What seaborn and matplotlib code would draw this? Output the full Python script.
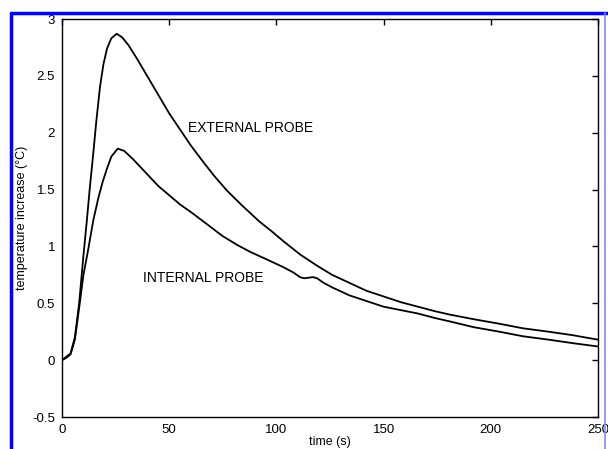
import numpy as np
import pandas as pd
import matplotlib.pyplot as plt
from matplotlib.lines import Line2D
import seaborn as sns

sns.set_style("white")
plt.rcParams['font.family'] = ['Liberation Sans', 'DejaVu Sans']
plt.rcParams['text.color'] = 'black'
plt.rcParams['axes.labelcolor'] = 'black'

# external probe (time s, temperature increase C)
time_ext = [0, 2, 4, 6, 8, 10, 11.6, 13, 14.6, 16, 17.7, 19.3, 21, 23, 25.5, 28, 31, 35,
            40, 45, 50, 55, 60, 66, 71, 77, 84, 92, 98, 103, 111, 119, 126, 134,
            142, 150, 158, 166, 174, 181, 192, 204, 215, 227, 238, 250]
temp_ext = [0, 0.03, 0.06, 0.2, 0.5, 0.92, 1.23, 1.52, 1.82, 2.1, 2.4, 2.6, 2.74, 2.83, 2.87,
            2.84, 2.77, 2.65, 2.49, 2.33, 2.17, 2.03, 1.89, 1.74, 1.62, 1.49, 1.36, 1.22,
            1.13, 1.05, 0.93, 0.83, 0.75, 0.68, 0.61, 0.56, 0.51, 0.47, 0.43, 0.40, 0.36,
            0.32, 0.28, 0.25, 0.22, 0.18]

# internal probe
time_int = [0, 2, 4, 6, 8, 10, 12, 14.6, 17, 19, 20.9, 23, 26, 29, 33, 37, 41, 45, 50, 55,
            61, 68, 75, 82, 88, 95, 103, 108, 111, 113, 117, 119, 122, 126, 134, 142, 150,
            158, 166, 174, 181, 192, 204, 215, 227, 238, 250]
temp_int = [0, 0.02, 0.05, 0.18, 0.46, 0.75, 0.95, 1.23, 1.43, 1.57, 1.68, 1.79, 1.86, 1.84,
            1.77, 1.69, 1.61, 1.53, 1.45, 1.37, 1.29, 1.19, 1.09, 1.01, 0.95, 0.89, 0.82,
            0.77, 0.73, 0.72, 0.73, 0.72, 0.68, 0.64, 0.57, 0.52, 0.47, 0.44, 0.41, 0.37,
            0.34, 0.29, 0.25, 0.21, 0.18, 0.15, 0.12]

x_ticks = [0, 50, 100, 150, 200, 250]
y_ticks = [-0.5, 0, 0.5, 1, 1.5, 2, 2.5, 3]
y_ticklabels = ['-0.5', '0', '0.5', '1', '1.5', '2', '2.5', '3']

fig = plt.figure(figsize=(6.08, 4.49), dpi=100)
ax = fig.add_axes([62/608, 1-417/449, 536/608, 398/449])

sns.lineplot(x=time_ext, y=temp_ext, color='black', lw=1.3, ax=ax)
sns.lineplot(x=time_int, y=temp_int, color='black', lw=1.3, ax=ax)

ax.set_xlim(0, 250)
ax.set_ylim(-0.5, 3)
ax.set_xticks(x_ticks)
ax.set_xticklabels([str(v) for v in x_ticks])
ax.set_yticks(y_ticks)
ax.set_yticklabels(y_ticklabels)
ax.tick_params(direction='in', length=4, width=1, top=True, right=True,
               labelsize=9.5, pad=5, colors='black')
for s in ax.spines.values():
    s.set_visible(True)
    s.set_color('black')
    s.set_linewidth(1.0)

ax.set_xlabel('time (s)', fontsize=9, labelpad=0)
ax.set_ylabel('temperature increase (°C)', fontsize=9, labelpad=3)

ax.text(58.8, 2.04, 'EXTERNAL PROBE', fontsize=10, va='center', ha='left')
ax.text(37.8, 0.72, 'INTERNAL PROBE', fontsize=10, va='center', ha='left')

# blue frame from the scanned page
fig.add_artist(Line2D([11/608, 1], [1-13/449, 1-13/449], color='#0000ff', lw=2.5,
                      transform=fig.transFigure))
fig.add_artist(Line2D([11/608, 11/608], [0, 1-13/449], color='#0000ff', lw=2.5,
                      transform=fig.transFigure))
fig.add_artist(Line2D([605/608, 605/608], [0, 1-13/449], color='#8888ff', lw=1.2,
                      transform=fig.transFigure))

fig.savefig('out.png', dpi=100)
